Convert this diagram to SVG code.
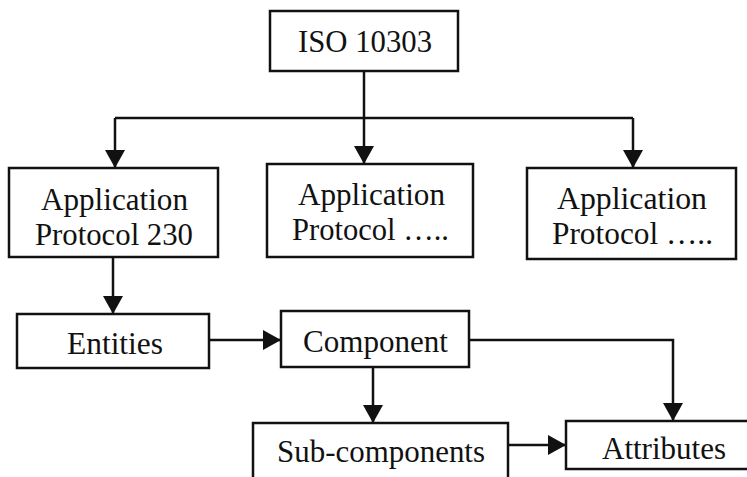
<svg xmlns="http://www.w3.org/2000/svg" width="747" height="477" viewBox="0 0 747 477">
  <style>
    .box { fill: #fff; stroke: #111; stroke-width: 2.5; }
    .lbl { font-family: "Liberation Serif", "Times New Roman", serif; font-size: 31px; fill: #111; text-anchor: middle; }
    .wire { fill: none; stroke: #111; stroke-width: 2.5; }
  </style>
  <defs>
    <marker id="arrow" markerUnits="userSpaceOnUse" markerWidth="18" markerHeight="20" refX="18" refY="10" orient="auto">
      <path d="M0,0 L18,10 L0,20 z" fill="#111"/>
    </marker>
  </defs>
  <rect width="747" height="477" fill="#fff"/>

  <g id="connectors">
    <path class="wire" d="M364,71 V118"/>
    <path class="wire" d="M115,118 H633"/>
    <path class="wire" d="M115,118 V168" marker-end="url(#arrow)"/>
    <path class="wire" d="M364,118 V164" marker-end="url(#arrow)"/>
    <path class="wire" d="M633,118 V168" marker-end="url(#arrow)"/>
    <path class="wire" d="M113,257 V314" marker-end="url(#arrow)"/>
    <path class="wire" d="M209,340 H281" marker-end="url(#arrow)"/>
    <path class="wire" d="M469,340 H673 V421" marker-end="url(#arrow)"/>
    <path class="wire" d="M373,367 V423" marker-end="url(#arrow)"/>
    <path class="wire" d="M508,445 H566" marker-end="url(#arrow)"/>
  </g>

  <g id="iso10303">
    <rect class="box" x="270" y="11" width="188" height="60"/>
    <text class="lbl" x="365" y="52" textLength="134" lengthAdjust="spacingAndGlyphs">ISO 10303</text>
  </g>

  <g id="ap230">
    <rect class="box" x="9" y="168" width="209" height="89"/>
    <text class="lbl" x="114.5" y="210" textLength="147" lengthAdjust="spacingAndGlyphs">Application</text>
    <text class="lbl" x="114" y="245" textLength="158" lengthAdjust="spacingAndGlyphs">Protocol 230</text>
  </g>

  <g id="ap-middle">
    <rect class="box" x="267" y="164" width="206" height="93"/>
    <text class="lbl" x="371.5" y="205" textLength="147" lengthAdjust="spacingAndGlyphs">Application</text>
    <text class="lbl" x="370.5" y="240" textLength="157" lengthAdjust="spacingAndGlyphs">Protocol …..</text>
  </g>

  <g id="ap-right">
    <rect class="box" x="527" y="168" width="209" height="91"/>
    <text class="lbl" x="632" y="209" textLength="150" lengthAdjust="spacingAndGlyphs">Application</text>
    <text class="lbl" x="632.5" y="244" textLength="161" lengthAdjust="spacingAndGlyphs">Protocol …..</text>
  </g>

  <g id="entities">
    <rect class="box" x="17" y="314" width="192" height="54"/>
    <text class="lbl" x="115" y="354" textLength="96" lengthAdjust="spacingAndGlyphs">Entities</text>
  </g>

  <g id="component">
    <rect class="box" x="281" y="311" width="188" height="56"/>
    <text class="lbl" x="375.5" y="352" textLength="145" lengthAdjust="spacingAndGlyphs">Component</text>
  </g>

  <g id="sub-components">
    <rect class="box" x="253" y="423" width="255" height="70"/>
    <text class="lbl" x="381" y="462" textLength="208" lengthAdjust="spacingAndGlyphs">Sub-components</text>
  </g>

  <g id="attributes">
    <rect class="box" x="566" y="421" width="200" height="48"/>
    <text class="lbl" x="664" y="459" textLength="124" lengthAdjust="spacingAndGlyphs">Attributes</text>
  </g>
</svg>
